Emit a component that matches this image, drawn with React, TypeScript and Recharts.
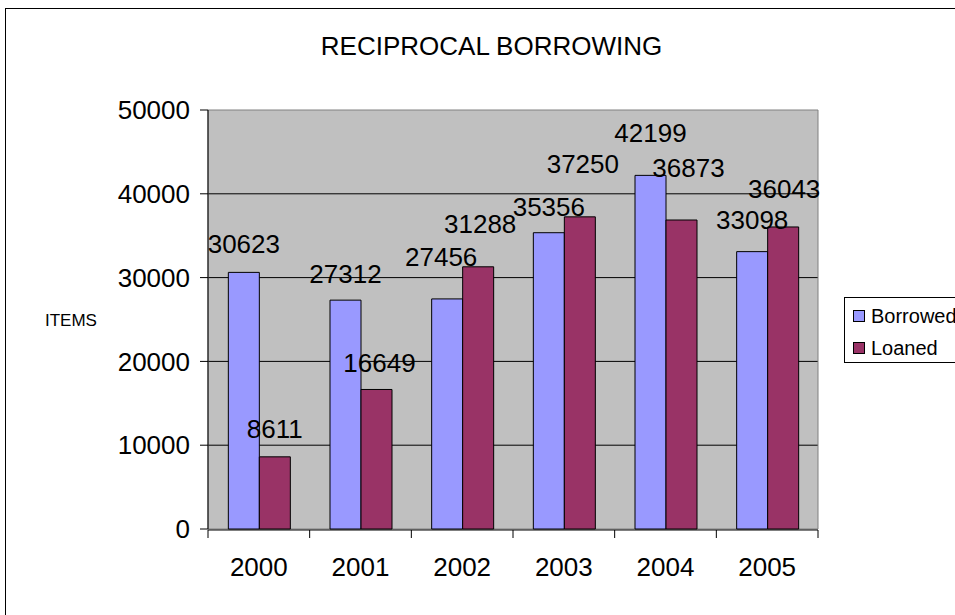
import React from "react";
import { BarChart, Bar, XAxis, YAxis, CartesianGrid, ReferenceArea, LabelList, Label } from "recharts";

const years = ["2000", "2001", "2002", "2003", "2004", "2005"];
const borrowed = [30623, 27312, 27456, 35356, 42199, 33098];
const loaned = [8611, 16649, 31288, 37250, 36873, 36043];
const yTicks = [0, 10000, 20000, 30000, 40000, 50000];
const edgeTicks = [0, 1, 2, 3, 4, 5, 6];

// Excel pushed some value labels apart so they would not overlap: [dx, lift above bar]
const borrowedNudge = [[0, 19], [0, 17], [-6, 33], [0, 17], [0, 33], [0, 23]];
const loanedNudge = [[0, 19], [3, 17], [2, 34], [3, 44], [7, 43], [1, 29]];

const series = [
  { key: "borrowed", name: "Borrowed", color: "#9999FF", nudge: borrowedNudge },
  { key: "loaned", name: "Loaned", color: "#993366", nudge: loanedNudge },
];

const data = years.map((year, i) => ({
  year,
  pos: i + 0.5,
  borrowed: borrowed[i],
  loaned: loaned[i],
}));

const FONT = '"Liberation Sans", Arial, sans-serif';

const valueLabel = (nudge: number[][]) => (props: any) => {
  const { x, y, width, value, index } = props;
  const [dx, lift] = nudge[index] || [0, 19];
  return (
    <text
      x={Number(x) + Number(width) / 2 + dx}
      y={Number(y) - lift}
      textAnchor="middle"
      fontSize={26}
      fontFamily={FONT}
      fill="#000"
    >
      {value}
    </text>
  );
};

export default function App() {
  return (
    <div
      style={{
        position: "absolute",
        left: 0,
        top: 0,
        width: 955,
        height: 615,
        overflow: "hidden",
        background: "#fff",
        fontFamily: FONT,
      }}
    >
      <div
        style={{
          position: "absolute",
          left: 5,
          top: 8,
          width: 1000,
          height: 1000,
          border: "1px solid #000",
        }}
      />
      <div
        style={{
          position: "absolute",
          left: 0,
          top: 33,
          width: 983,
          textAlign: "center",
          fontSize: 26,
          lineHeight: "26px",
          color: "#000",
        }}
      >
        RECIPROCAL BORROWING
      </div>

      <div style={{ position: "absolute", left: 0, top: 0 }}>
        <BarChart
          width={955}
          height={615}
          data={data}
          margin={{ top: 110, right: 137, bottom: 84, left: 0 }}
          barCategoryGap="20%"
          barGap={0}
        >
          <CartesianGrid
            xAxisId="cat"
            vertical={false}
            horizontalValues={[10000, 20000, 30000, 40000]}
            stroke="#000"
            fill="#C0C0C0"
            fillOpacity={1}
          />
          <ReferenceArea xAxisId="cat" y1={0} y2={50000} fill="none" stroke="#808080" />
          <XAxis
            xAxisId="edge"
            type="number"
            dataKey="pos"
            domain={[0, 6]}
            ticks={edgeTicks}
            interval={0}
            tickFormatter={() => ""}
            tickSize={8}
            height={1}
            stroke="#000"
            allowDataOverflow
          />
          <XAxis
            xAxisId="cat"
            dataKey="year"
            height={1}
            axisLine={false}
            tickLine={false}
            tickSize={0}
            tickMargin={29}
            tick={{ fontSize: 26, fill: "#000", fontFamily: FONT }}
            interval={0}
          />
          <YAxis
            width={208}
            domain={[0, 50000]}
            ticks={yTicks}
            interval={0}
            tickSize={8}
            tickMargin={10}
            stroke="#000"
            tick={{ fontSize: 26, fill: "#000", fontFamily: FONT }}
          >
            <Label
              value="ITEMS"
              position="insideLeft"
              offset={45}
              style={{ fontSize: 17, fill: "#000", fontFamily: FONT }}
            />
          </YAxis>
          {series.map((s) => (
            <Bar
              key={s.key}
              xAxisId="cat"
              dataKey={s.key}
              name={s.name}
              fill={s.color}
              stroke="#000"
              strokeWidth={1}
              isAnimationActive={false}
            >
              <LabelList dataKey={s.key} content={valueLabel(s.nudge)} />
            </Bar>
          ))}
        </BarChart>
      </div>

      <div
        style={{
          position: "absolute",
          left: 844,
          top: 297,
          width: 140,
          height: 64,
          border: "1px solid #000",
          background: "#fff",
        }}
      >
        {series.map((s, i) => (
          <div
            key={s.key}
            style={{
              position: "absolute",
              left: 8,
              top: 6 + i * 32,
              height: 24,
              display: "flex",
              alignItems: "center",
              whiteSpace: "nowrap",
            }}
          >
            <span
              style={{
                width: 10,
                height: 10,
                background: s.color,
                border: "1px solid #000",
                display: "inline-block",
              }}
            />
            <span style={{ marginLeft: 6, fontSize: 20, color: "#000" }}>{s.name}</span>
          </div>
        ))}
      </div>
    </div>
  );
}
